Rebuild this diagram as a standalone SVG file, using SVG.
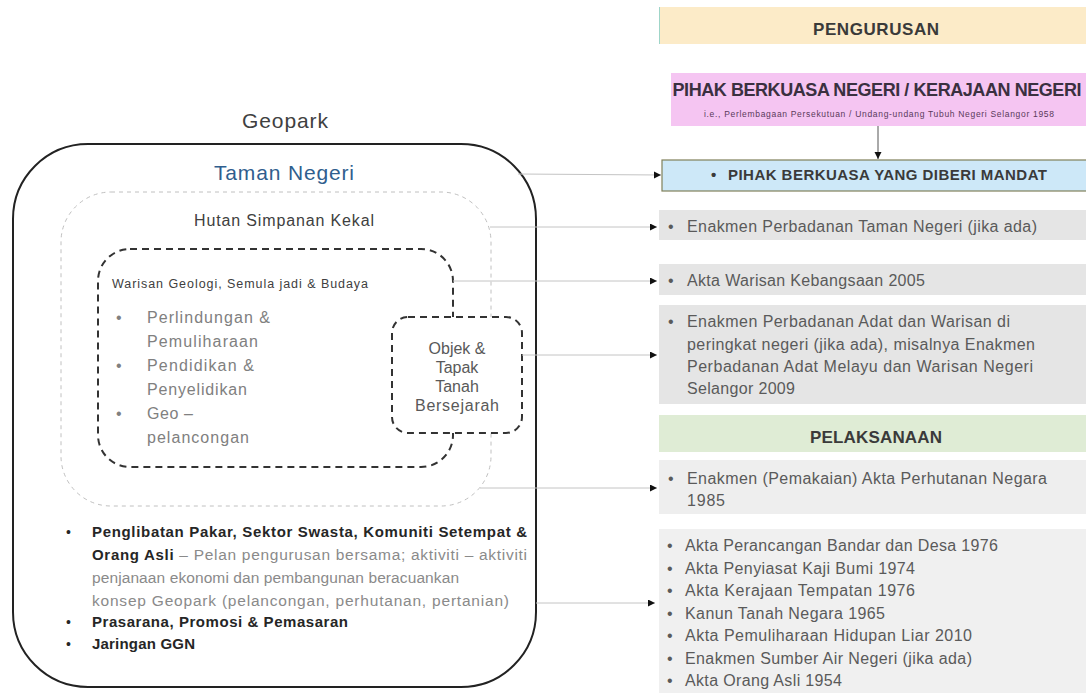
<svg xmlns="http://www.w3.org/2000/svg" width="1086" height="693" viewBox="0 0 1086 693">
<defs>
<marker id="arr" markerWidth="8" markerHeight="8" refX="7" refY="3.5" orient="auto" markerUnits="userSpaceOnUse">
<path d="M0,0 L7,3.5 L0,7 z" fill="#111"/>
</marker>
<style>
text{font-family:"Liberation Sans",Arial,sans-serif}
.hdr{font-weight:bold;fill:#3a3a3a;font-size:17px;text-anchor:middle}
.item{fill:#5a5a5a;font-size:16px}
.conn{stroke:#c4c4c4;stroke-width:1;fill:none;marker-end:url(#arr)}
.dash{stroke:#333;stroke-width:2;stroke-dasharray:7 5}
.inner{fill:#808080;font-size:16px}
.bot{font-size:15.5px;fill:#8a8a8a}
.botb{font-weight:bold;fill:#262626;font-size:15px}
.dot{font-size:14px;fill:#262626}
</style>
</defs>
<rect width="1086" height="693" fill="#fff"/>

<g id="geopark">
<text x="285" y="128" font-size="21" fill="#404040" text-anchor="middle" textLength="86">Geopark</text>
<rect x="13" y="144" width="523" height="543" rx="75" ry="75" fill="#fff" stroke="#222" stroke-width="2"/>
</g>
<g id="taman-negeri">
<text x="284" y="180" font-size="21" fill="#2f5e8e" text-anchor="middle" textLength="140">Taman Negeri</text>
</g>
<g id="hutan">
<rect x="61" y="192" width="430" height="314" rx="50" ry="50" fill="none" stroke="#c0c0c0" stroke-width="1" stroke-dasharray="4 4"/>
<text x="284" y="226" font-size="16" fill="#404040" text-anchor="middle" textLength="180">Hutan Simpanan Kekal</text>
</g>
<g id="warisan">
<rect x="98" y="249" width="355" height="218" rx="32" ry="32" fill="none" class="dash"/>
<text x="112" y="288" font-size="12.5" fill="#404040" textLength="256">Warisan Geologi, Semula jadi &amp; Budaya</text>
<text x="116" y="323" class="inner">•</text>
<text x="147" y="323" class="inner" textLength="123">Perlindungan &amp;</text>
<text x="147" y="347" class="inner" textLength="111">Pemuliharaan</text>
<text x="116" y="371" class="inner">•</text>
<text x="147" y="371" class="inner" textLength="107">Pendidikan &amp;</text>
<text x="147" y="395" class="inner" textLength="100">Penyelidikan</text>
<text x="116" y="419" class="inner">•</text>
<text x="147" y="419" class="inner" textLength="46">Geo –</text>
<text x="147" y="443" class="inner" textLength="102">pelancongan</text>
</g>
<g id="objek">
<rect x="392" y="317" width="130" height="116" rx="16" ry="16" fill="#fff" class="dash"/>
<g font-size="16" fill="#595959" text-anchor="middle">
<text x="457" y="354">Objek &amp;</text>
<text x="457" y="373">Tapak</text>
<text x="457" y="392">Tanah</text>
<text x="457" y="411" textLength="84">Bersejarah</text>
</g>
</g>
<g id="bottom-list">
<text x="66" y="537" class="dot">•</text>
<text x="92" y="537" class="botb" textLength="435">Penglibatan Pakar, Sektor Swasta, Komuniti Setempat &amp;</text>
<text x="92" y="560" class="bot" textLength="435"><tspan class="botb">Orang Asli</tspan> – Pelan pengurusan bersama; aktiviti – aktiviti</text>
<text x="92" y="583" class="bot" textLength="367">penjanaan ekonomi dan pembangunan beracuankan</text>
<text x="92" y="606" class="bot" textLength="417">konsep Geopark (pelancongan, perhutanan, pertanian)</text>
<text x="66" y="627" class="dot">•</text>
<text x="92" y="627" class="botb" textLength="256">Prasarana, Promosi &amp; Pemasaran</text>
<text x="66" y="649" class="dot">•</text>
<text x="92" y="649" class="botb" textLength="103">Jaringan GGN</text>
</g>

<g id="pengurusan">
<rect x="659" y="7" width="427" height="37" fill="#fcebc8"/>
<line x1="659.5" y1="7" x2="659.5" y2="44" stroke="#9fd5c8" stroke-width="1"/>
<text x="876" y="35" class="hdr" textLength="126">PENGURUSAN</text>
</g>
<g id="pihak-negeri">
<rect x="671" y="73" width="415" height="53" fill="#f5c5f2"/>
<text x="877" y="96" font-size="18" font-weight="bold" fill="#3a3040" text-anchor="middle" textLength="409">PIHAK BERKUASA NEGERI / KERAJAAN NEGERI</text>
<text x="879" y="117" font-size="8.5" fill="#5a3a5a" text-anchor="middle" textLength="350">i.e., Perlembagaan Persekutuan / Undang-undang Tubuh Negeri Selangor 1958</text>
</g>
<g id="pihak-mandat">
<rect x="662" y="160" width="430" height="31" fill="#cde8f8" stroke="#80805a" stroke-width="1.2"/>
<text x="711" y="180" font-size="15" font-weight="bold" fill="#3a3a3a">•</text>
<text x="728" y="180" font-size="15" font-weight="bold" fill="#3a3a3a" textLength="319">PIHAK BERKUASA YANG DIBERI MANDAT</text>
</g>
<g id="enakmen-taman">
<rect x="659" y="210" width="427" height="30" fill="#e5e5e5"/>
<text x="668" y="232" class="item">•</text>
<text x="687" y="232" class="item" textLength="350">Enakmen Perbadanan Taman Negeri (jika ada)</text>
</g>
<g id="akta-warisan">
<rect x="659" y="264" width="427" height="31" fill="#e5e5e5"/>
<text x="668" y="286" class="item">•</text>
<text x="687" y="286" class="item" textLength="238">Akta Warisan Kebangsaan 2005</text>
</g>
<g id="enakmen-adat">
<rect x="659" y="305" width="427" height="99" fill="#e5e5e5"/>
<text x="668" y="327" class="item">•</text>
<text x="687" y="327" class="item" textLength="323">Enakmen Perbadanan Adat dan Warisan di</text>
<text x="687" y="350" class="item" textLength="348">peringkat negeri (jika ada), misalnya Enakmen</text>
<text x="687" y="372" class="item" textLength="346">Perbadanan Adat Melayu dan Warisan Negeri</text>
<text x="687" y="394" class="item" textLength="108">Selangor 2009</text>
</g>
<g id="pelaksanaan">
<rect x="659" y="415" width="427" height="37" fill="#dfecd5"/>
<text x="876" y="443" class="hdr" textLength="132">PELAKSANAAN</text>
</g>
<g id="enakmen-perhutanan">
<rect x="659" y="460" width="427" height="54" fill="#eeeeee"/>
<text x="668" y="484" class="item">•</text>
<text x="687" y="484" class="item" textLength="360">Enakmen (Pemakaian) Akta Perhutanan Negara</text>
<text x="687" y="506" class="item" textLength="38">1985</text>
</g>
<g id="akta-lain">
<rect x="659" y="529" width="427" height="164" fill="#f0f0f0"/>
<g class="item">
<text x="667" y="551">•</text><text x="685" y="551" textLength="313">Akta Perancangan Bandar dan Desa 1976</text>
<text x="667" y="574">•</text><text x="685" y="574" textLength="230">Akta Penyiasat Kaji Bumi 1974</text>
<text x="667" y="596">•</text><text x="685" y="596" textLength="230">Akta Kerajaan Tempatan 1976</text>
<text x="667" y="619">•</text><text x="685" y="619" textLength="200">Kanun Tanah Negara 1965</text>
<text x="667" y="641">•</text><text x="685" y="641" textLength="287">Akta Pemuliharaan Hidupan Liar 2010</text>
<text x="667" y="664">•</text><text x="685" y="664" textLength="287">Enakmen Sumber Air Negeri (jika ada)</text>
<text x="667" y="686">•</text><text x="685" y="686" textLength="157">Akta Orang Asli 1954</text>
</g>
</g>

<g id="connectors">
<line x1="878" y1="126" x2="878" y2="159" stroke="#555" stroke-width="1" marker-end="url(#arr)"/>
<line x1="518" y1="174" x2="661" y2="175" class="conn"/>
<line x1="490" y1="227" x2="657" y2="227" class="conn"/>
<line x1="453" y1="281" x2="657" y2="281" class="conn"/>
<line x1="522" y1="355" x2="657" y2="355" class="conn"/>
<line x1="480" y1="488" x2="657" y2="488" class="conn"/>
<line x1="536" y1="603" x2="655" y2="603" class="conn"/>
</g>
</svg>
